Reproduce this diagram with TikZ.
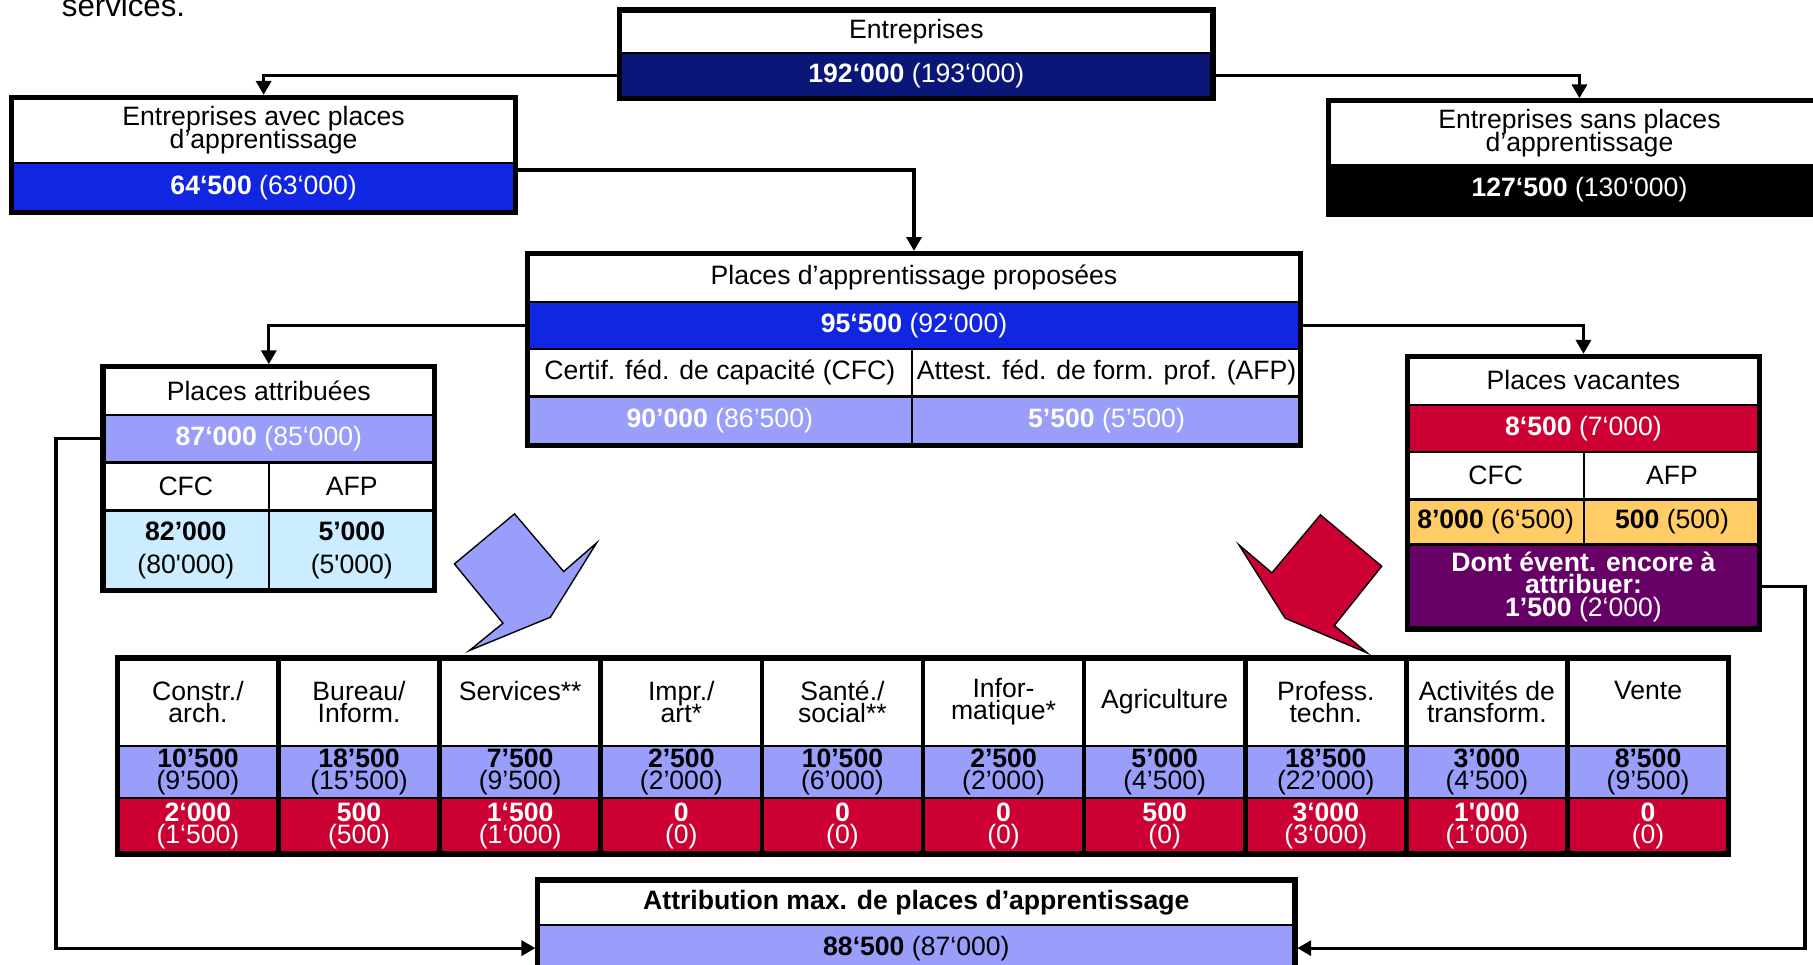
\documentclass[tikz,border=0pt]{standalone}
\usepackage{fontspec}
\setmainfont{Liberation Sans}
\usepackage{xcolor}
\usetikzlibrary{arrows.meta}

\definecolor{navy}{RGB}{10,22,120}
\definecolor{vivid}{RGB}{16,38,224}
\definecolor{lilac}{RGB}{153,158,250}
\definecolor{icy}{RGB}{204,236,255}
\definecolor{crimson}{RGB}{204,0,51}
\definecolor{apricot}{RGB}{255,204,102}
\definecolor{plum}{RGB}{102,0,102}

\newcommand{\boxfont}{\fontsize{23}{19.5}\selectfont\lineskiplimit=-50pt}
\newcommand{\sq}{\textquotesingle}

\tikzset{
	tcell/.style={draw, line width=2pt, inner sep=0pt, outer sep=0pt, anchor=north west, align=center, font=\boxfont},
	boxframe/.style={line width=4.5pt},
	conn/.style={line width=2.8pt, shorten >=2pt, -{Triangle[length=12pt,width=13pt]}},
	bigarrow/.style={line width=1.2pt, line join=miter}
}

\begin{document}
\begin{tikzpicture}[x=1pt,y=-1pt]
		\useasboundingbox (0,0) rectangle (1568,834);
		
		\node[anchor=base west, font=\fontsize{27}{27}\selectfont] (svc) at (50,14) {services.};
		
		% Entreprises
		\node[tcell, minimum width=513pt, minimum height=37.3pt] (ent) at (536,8.7) {Entreprises};
		\node[tcell, minimum width=513pt, minimum height=39pt, fill=navy, text=white] (entN) at (ent.south west) {\textbf{192‘000} (193‘000)};
		\draw[boxframe] (ent.north west) rectangle (entN.south east);
		
		\node[tcell, minimum width=436pt, minimum height=57pt] (avec) at (10,84) {Entreprises avec places\\d’apprentissage};
		\node[tcell, minimum width=436pt, minimum height=43pt, fill=vivid, text=white] (avecN) at (avec.south west) {\textbf{64‘500} (63‘000)};
		\draw[boxframe] (avec.north west) rectangle (avecN.south east);
		
		\node[tcell, minimum width=434pt, minimum height=56pt] (sans) at (1149,87) {Entreprises sans places\\d’apprentissage};
		\node[tcell, minimum width=434pt, minimum height=42pt, fill=black, text=white] (sansN) at (sans.south west) {\textbf{127‘500} (130‘000)};
		\draw[boxframe] (sans.north west) rectangle (sansN.south east);
		
		% Places proposees
		\node[tcell, minimum width=669pt, minimum height=42pt] (prop) at (456,219) {Places d’apprentissage proposées};
		\node[tcell, minimum width=669pt, minimum height=41pt, fill=vivid, text=white] (propN) at (prop.south west) {\textbf{95‘500} (92‘000)};
		\node[tcell, minimum width=333pt, minimum height=41pt] (propC) at (propN.south west) {Certif. féd. de capacité (CFC)};
		\node[tcell, minimum width=336pt, minimum height=41pt] (propA) at (propC.north east) {Attest. féd. de form. prof. (AFP)};
		\node[tcell, minimum width=333pt, minimum height=42pt, fill=lilac, text=white] (propCn) at (propC.south west) {\textbf{90’000} (86’500)};
		\node[tcell, minimum width=336pt, minimum height=42pt, fill=lilac, text=white] (propAn) at (propCn.north east) {\textbf{5’500} (5’500)};
		\draw[boxframe] (prop.north west) rectangle (propAn.south east);
		
		% Places attribuees
		\node[tcell, minimum width=287pt, minimum height=42pt] (attr) at (89,317) {Places attribuées};
		\node[tcell, minimum width=287pt, minimum height=41pt, fill=lilac, text=white] (attrN) at (attr.south west) {\textbf{87‘000} (85‘000)};
		\node[tcell, minimum width=143.5pt, minimum height=41.5pt] (attrC) at (attrN.south west) {CFC};
		\node[tcell, minimum width=143.5pt, minimum height=41.5pt] (attrA) at (attrC.north east) {AFP};
		\node[tcell, minimum width=143.5pt, minimum height=69.5pt, fill=icy] (attrCn) at (attrC.south west) {\textbf{82’000}\\[9.5pt](80\sq000)};
		\node[tcell, minimum width=143.5pt, minimum height=69.5pt, fill=icy] (attrAn) at (attrCn.north east) {\textbf{5’000}\\[9.5pt](5\sq000)};
		\draw[boxframe] (attr.north west) rectangle (attrAn.south east);
		
		% Places vacantes
		\node[tcell, minimum width=305pt, minimum height=42pt] (vac) at (1217,308) {Places vacantes};
		\node[tcell, minimum width=305pt, minimum height=41pt, fill=crimson, text=white] (vacN) at (vac.south west) {\textbf{8‘500} (7‘000)};
		\node[tcell, minimum width=153pt, minimum height=41pt] (vacC) at (vacN.south west) {CFC};
		\node[tcell, minimum width=152pt, minimum height=41pt] (vacA) at (vacC.north east) {AFP};
		\node[tcell, minimum width=153pt, minimum height=39pt, fill=apricot] (vacCn) at (vacC.south west) {\textbf{8’000} (6‘500)};
		\node[tcell, minimum width=152pt, minimum height=39pt, fill=apricot] (vacAn) at (vacCn.north east) {\textbf{500} (500)};
		\node[tcell, minimum width=305pt, minimum height=73pt, fill=plum, text=white, font=\boxfont\bfseries] (dont) at (vacCn.south west) {Dont évent. encore à\\attribuer:\\1’500 \mdseries(2‘000)};
		\draw[boxframe] (vac.north west) rectangle (dont.south east);
		
		% big arrows
		\draw[bigarrow, fill=lilac] (445,444.4) -- (487.5,494.3) -- (516,469.5) -- (476,533.8) -- (406,562.6) -- (435,539) -- (393,487.7) -- cycle;
		\draw[bigarrow, fill=crimson] (1142,445.3) -- (1195,489.7) -- (1154,541) -- (1182.5,564.7) -- (1111.5,534.7) -- (1071.5,471.2) -- (1100,495.4) -- cycle;
		
		% table of fields
		\foreach \i/\hd/\bn/\bp/\rn/\rp in {
			1/{Constr./\\arch.}/10’500/(9’500)/2‘000/(1‘500),
			2/{Bureau/\\Inform.}/18’500/(15’500)/500/(500),
			3/{Services**\\\phantom{arch.}}/7’500/(9’500)/1‘500/(1‘000),
			4/{Impr./\\art*}/2’500/(2’000)/0/(0),
			5/{Santé./\\social**}/10’500/(6’000)/0/(0),
			6/{Infor-\\matique*}/2’500/(2’000)/0/(0),
			7/{Agriculture}/5’000/(4’500)/500/(0),
			8/{Profess.\\techn.}/18’500/(22’000)/3‘000/(3‘000),
			9/{Activités de\\transform.}/3’000/(4’500)/1\sq000/(1’000),
			10/{Vente\\\phantom{arch.}}/8’500/(9’500)/0/(0)}{
			\node[tcell, minimum width=139.35pt, minimum height=76pt] (h\i) at ({101.5+(\i-1)*139.35},569) {\hd};
			\node[tcell, minimum width=139.35pt, minimum height=45.4pt, fill=lilac] (b\i) at (h\i.south west) {\textbf{\bn}\\\bp};
			\node[tcell, minimum width=139.35pt, minimum height=48.2pt, fill=crimson, text=white] (r\i) at (b\i.south west) {\textbf{\rn}\\\rp};
		}
		\foreach \i in {1,...,9}
		\draw[line width=4pt] (h\i.north east) -- (r\i.south east);
		\draw[boxframe] (h1.north west) rectangle (r10.south east);
		
		% Attribution max.
		\node[tcell, minimum width=655pt, minimum height=39pt, font=\boxfont\bfseries] (max) at (465,761) {Attribution max. de places d’apprentissage};
		\node[tcell, minimum width=655pt, minimum height=40pt, fill=lilac] (maxN) at (max.south west) {\textbf{88‘500} (87‘000)};
		\draw[boxframe] (max.north west) rectangle (maxN.south east);
		
		\draw[conn] (entN.west) -| (avec.north);
		\draw[conn] (entN.east) -| (sans.north);
		\draw[conn] ([yshift=-6pt]avecN.north east) -| (prop.north);
		\draw[conn] (propN.west) -| (attr.north);
		\draw[conn] (propN.east) -| (vac.north);
		\draw[conn] (attrN.west) -- ++(-40.5,0) |- (maxN.west);
		\draw[conn] (dont.east) -- ++(39,0) |- (maxN.east);
\end{tikzpicture}
\end{document}
